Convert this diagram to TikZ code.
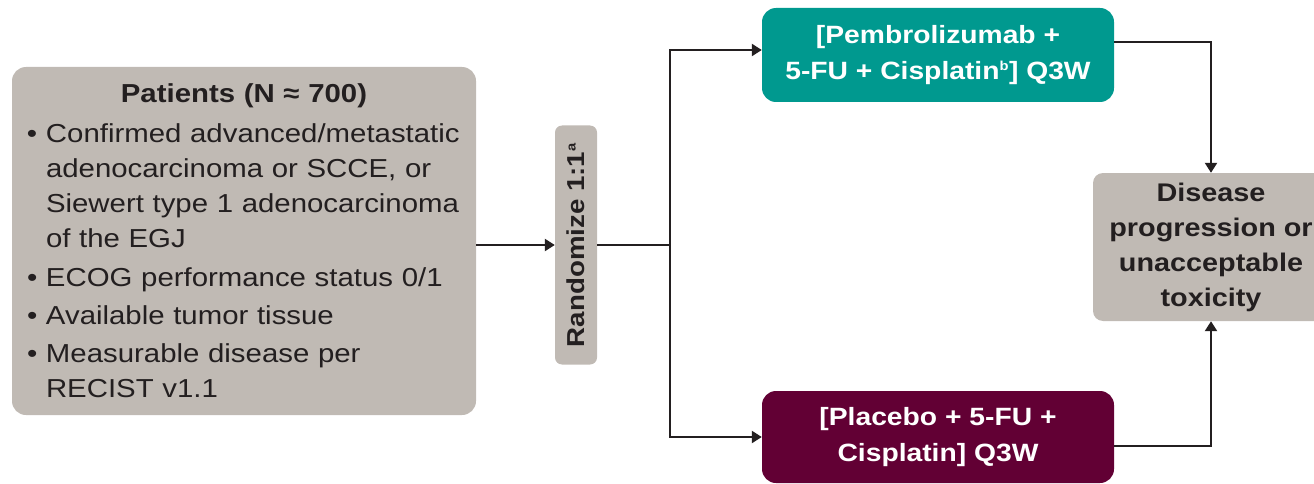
\documentclass[tikz,border=0pt]{standalone}
\usepackage{fontspec}
\setmainfont{Liberation Sans}[FakeStretch=1.13]
\usetikzlibrary{arrows.meta,calc}
\definecolor{boxgrey}{RGB}{192,186,180}
\definecolor{teal1}{RGB}{0,153,143}
\definecolor{maroon1}{RGB}{98,0,52}
\definecolor{txt}{RGB}{35,31,32}
\begin{document}
\begin{tikzpicture}[x=1pt,y=-1pt,
  greybox/.style={fill=boxgrey,rounded corners=14pt,text=txt,inner sep=0pt},
  armbox/.style={rounded corners=14pt,text=white,inner sep=0pt,minimum width=352pt,align=center,font=\fontsize{25}{36}\selectfont\bfseries},
  conn/.style={line width=2.3pt,draw=txt},
  arr/.style={conn,-{Triangle[length=10pt,width=12pt]}}]
\useasboundingbox (0,0) rectangle (1314,484);
\newcommand{\bul}{\makebox[24pt][l]{\hspace*{5pt}•}}
\newcommand{\ind}{\hspace*{24pt}}
\node[greybox,minimum width=464pt,minimum height=348pt,text width=444pt,inner xsep=10pt,align=left,font=\fontsize{26}{35}\selectfont] (pat) at (244,241)
 {\makebox[444pt][c]{\bfseries Patients (N ≈ 700)}\\[5pt]
  \bul Confirmed advanced/metastatic\\
  \ind adenocarcinoma or SCCE, or\\
  \ind Siewert type 1 adenocarcinoma\\
  \ind of the EGJ\\[4pt]
  \bul ECOG performance status 0/1\\[3pt]
  \bul Available tumor tissue\\[3pt]
  \bul Measurable disease per\\
  \ind RECIST v1.1};
\node[greybox,rounded corners=7pt,minimum width=42pt,minimum height=239pt] (rand) at (576,245)
 {\rotatebox{90}{\fontsize{24.5}{28}\selectfont\bfseries Randomize 1:1\textsuperscript{\fontsize{13}{13}\selectfont a}}};
\node[armbox,fill=teal1,minimum height=94pt] (top) at (938,55)
 {[Pembrolizumab +\\5-FU + Cisplatin\textsuperscript{\fontsize{13}{13}\selectfont b}] Q3W};
\node[armbox,fill=maroon1,minimum height=92pt] (bot) at (938,437)
 {[Placebo + 5-FU +\\Cisplatin] Q3W};
\node[greybox,rounded corners=10pt,minimum width=236pt,minimum height=148pt,align=center,font=\fontsize{25.5}{35}\selectfont\bfseries] (dis) at (1211,247)
 {Disease\\progression or\\unacceptable\\toxicity};
\coordinate (br) at (670,245);
\draw[arr] (pat.east |- rand.west) -- (rand.west);
\draw[conn] (rand.east) -- (br);
\draw[arr] (br) |- ([yshift=5pt]top.west);
\draw[arr] (br) |- (bot.west);
\draw[arr] ([yshift=13pt]top.east) -| (dis.north);
\draw[arr] ([yshift=-9pt]bot.east) -| (dis.south);
\end{tikzpicture}
\end{document}
